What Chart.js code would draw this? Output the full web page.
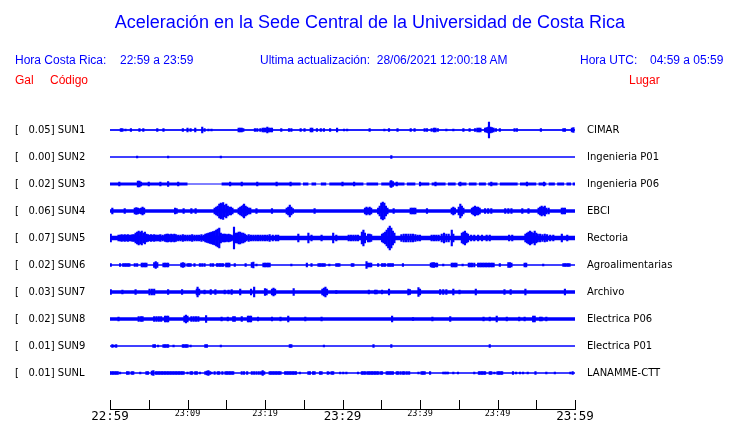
<!DOCTYPE html>
<html><head><meta charset="utf-8">
<script src="https://cdn.jsdelivr.net/npm/chart.js@4.4.1/dist/chart.umd.min.js"></script>
<style>
html,body{margin:0;padding:0;background:#fff;}
body{width:740px;height:423px;overflow:hidden;position:relative;font-family:"Liberation Sans",Arial,sans-serif;}
.t{position:absolute;white-space:pre;color:#0000ff;font-size:12px;line-height:14px;}
.r{color:#ff0000;}
canvas{position:absolute;left:0;top:0;}
</style></head><body>
<canvas id="c" width="740" height="427"></canvas>
<div class="t" style="left:0;width:740px;text-align:center;top:11px;font-size:18px;line-height:22px;">Aceleración en la Sede Central de la Universidad de Costa Rica</div>
<div class="t" style="left:15px;top:53px;">Hora Costa Rica:</div>
<div class="t" style="left:120px;top:53px;">22:59 a 23:59</div>
<div class="t" style="left:260px;top:53px;">Ultima actualización:  28/06/2021 12:00:18 AM</div>
<div class="t" style="left:580px;top:53px;">Hora UTC:</div>
<div class="t" style="left:650px;top:53px;">04:59 a 05:59</div>
<div class="t r" style="left:15px;top:73px;">Gal</div>
<div class="t r" style="left:50px;top:73px;">Código</div>
<div class="t r" style="left:629px;top:73px;">Lugar</div>
<script>
// ---------------- DATA ----------------
const codes = ['SUN1','SUN2','SUN3','SUN4','SUN5','SUN6','SUN7','SUN8','SUN9','SUNL'];
const places = ['CIMAR','Ingenieria P01','Ingenieria P06','EBCI','Rectoria','Agroalimentarias','Archivo','Electrica P06','Electrica P01','LANAMME-CTT'];
const peakGal = [0.05,0.00,0.02,0.06,0.07,0.02,0.03,0.02,0.01,0.01];
const timeLabels = ['22:59','','23:09','','23:19','','23:29','','23:39','','23:49','','23:59'];
// background noise level (half amplitude, display counts)
const noiseAmp = [0.75,0.5,1.5,1.8,2.2,0.6,1.7,1.7,0.5,0.6];
// minutes after 22:59 where the background noise band is present
const sun3Band = [[0,10.0],[14.4,24.6],[24.9,25.6],[26.0,26.6],[27.2,27.9],[28.3,32.7],[33.1,34.6],[35.0,38.0],[38.3,39.4],[39.9,41.2],[41.5,43.3],[43.6,44.6],[44.9,46.0],[46.3,47.3],[47.6,48.5],[48.8,50.0],[50.3,52.6],[52.9,55.0],[55.3,56.3],[56.6,57.4],[57.7,58.6],[58.9,59.5],[59.7,60]];
const fullBand = [[0,60]];
// peaks: [minute after 22:59, half amplitude]
const sun1Peaks = [[1.4,1.5],[1.6,1.5],[2.0,1],[2.7,1.5],[3.8,1.5],[4.3,1.5],[6.1,1.5],[6.9,1.5],[9.4,1.5],[10.0,2],[10.4,1.5],[11.0,2],[11.9,3],[12.2,1.5],[12.7,1],[13.1,1],[16.6,2],[16.8,2],[17.0,2],[17.2,1.5],[18.7,1.5],[19.0,1.5],[19.4,1.5],[19.7,2],[19.9,2],[20.1,2],[20.3,3],[20.5,2],[20.7,2],[20.9,2],[22.1,1.5],[23.1,1.5],[23.4,1.5],[24.6,1.5],[25.1,1.5],[25.9,2],[26.1,2],[26.7,1.5],[27.2,1.5],[27.6,1.5],[28.4,1.5],[29.3,2],[30.2,1],[30.6,1],[33.5,1.5],[35.4,1],[36.0,1.5],[37.1,1.5],[38.8,1.5],[39.3,1.5],[40.6,1.5],[40.9,1.5],[41.5,1.5],[41.8,2],[42.0,2],[42.3,1.5],[43.4,1],[44.3,1],[45.6,1.5],[46.4,1.5],[47.1,1.5],[47.4,2],[47.6,2],[47.8,2],[48.4,2],[48.6,2.5],[48.8,3],[48.9,8],[49.1,3],[49.3,2.5],[49.5,2],[49.8,1.5],[50.3,1.5],[52.2,1.5],[52.5,1.5],[55.6,1.5],[58.5,1.5],[58.7,1.5],[59.6,2],[59.8,2.5]];
const sun2Peaks = [[3.5,1],[7.5,1],[14.3,1],[36.3,1.5]];
const sun3Peaks = [[1.2,2],[3.6,3],[3.8,3],[4.0,2],[5.0,2],[6.5,2],[7.5,2.5],[8.8,2],[15.5,2],[17.0,2],[19.0,2],[21.5,2],[23.3,2],[30.0,2],[31.5,2],[36.2,3],[36.3,3.5],[36.5,2.5],[37.0,2],[40.0,2],[42.0,2],[45.2,2],[49.2,2],[53.8,2],[56.0,2]];
const sun4Peaks = [[0.3,3],[1.9,2.5],[3.2,3],[3.4,3.5],[3.6,3],[3.8,2.5],[4.0,3],[4.2,4],[4.4,3],[8.4,3],[8.6,2.5],[9.5,2.5],[10.5,2.5],[11.05,2.5],[13.5,3],[13.7,4],[13.9,5],[14.1,7],[14.3,8],[14.4,7],[14.6,8.5],[14.8,6],[15.0,7],[15.2,5],[15.4,4],[15.6,4],[15.8,3],[16.6,3],[16.8,4],[17.0,5],[17.2,6],[17.3,7],[17.5,5],[17.7,4],[17.9,3],[18.1,3],[18.9,2.5],[20.9,2.5],[22.8,3],[23.0,4],[23.2,6],[23.4,4],[23.6,2.5],[26.4,2.5],[32.9,3],[33.1,4],[33.3,3],[33.5,4],[33.7,3],[34.6,3],[34.8,5],[35.0,8],[35.2,9],[35.4,8],[35.6,5],[35.8,3],[36.6,2.5],[38.8,3],[39.0,3],[39.2,3],[39.4,3],[40.9,2.5],[44.1,3],[44.3,4],[44.5,3],[45.0,4],[45.2,7],[45.4,5],[45.6,3],[46.7,3],[46.9,4],[47.1,5],[47.3,4],[47.5,4],[47.7,3],[48.4,2.5],[48.8,2.5],[49.2,2.5],[51.0,2.5],[51.4,2.5],[51.8,2.5],[53.2,2.5],[54.0,2.5],[55.3,3],[55.5,4],[55.7,5],[55.9,4],[56.1,5],[56.3,3],[56.6,3],[58.3,3],[58.5,3],[58.7,3]];
const sun5Peaks = [[0.1,4],[1.1,3],[1.3,3],[1.5,3.5],[1.7,3],[1.9,3.5],[2.1,3],[2.3,3.5],[2.5,3],[2.7,3],[2.9,3.5],[3.1,3.5],[3.3,5],[3.5,6],[3.7,7],[3.9,6],[4.1,7],[4.3,5],[4.5,6],[4.7,4],[4.9,3.5],[5.1,3],[5.3,3.5],[5.5,3],[5.7,3.5],[5.9,3],[6.1,3],[6.3,3],[6.5,3.5],[6.8,3],[7.1,3.5],[7.3,4],[7.5,4],[7.7,3.5],[7.9,4],[8.1,3.5],[8.3,4],[8.5,3.5],[8.8,3],[9.1,3],[9.4,3.5],[9.7,3],[10.0,3],[10.3,3],[10.6,3.5],[10.9,3],[11.2,3],[11.5,3],[11.8,3.5],[12.1,3],[12.3,4],[12.5,4.5],[12.7,5],[12.9,5.5],[13.1,6],[13.3,6.5],[13.5,7],[13.7,8],[13.9,9],[14.1,10],[14.3,5],[14.5,4],[14.7,4],[14.9,4],[15.1,3.5],[15.3,4],[15.5,3.5],[15.7,3],[16.0,11],[16.2,5],[16.4,5],[16.6,6],[16.8,6],[17.0,5],[17.2,5],[17.4,4],[17.6,3],[17.9,3.5],[18.2,3],[18.5,3],[18.8,3],[19.1,3],[19.4,3],[19.7,3],[20.0,3],[20.3,3],[20.6,3.5],[21.0,3],[21.4,3],[21.7,3],[24.3,4],[25.6,5],[26.0,3],[27.3,3],[28.8,5],[29.2,3],[30.8,3],[31.1,3],[31.4,3],[31.7,3],[32.0,3],[32.5,6],[32.7,8],[32.9,5],[33.3,4],[33.5,4],[33.7,3.5],[35.1,4],[35.3,5],[35.5,6],[35.7,8],[35.9,10],[36.1,12],[36.3,10],[36.5,7],[36.7,5],[37.6,3.5],[37.9,4],[38.2,4],[38.5,4],[38.8,4],[39.1,4],[39.4,3.5],[39.7,3],[40.0,3],[41.5,3],[41.8,3],[42.1,3],[42.4,3],[42.8,4],[43.1,5],[43.4,4],[43.7,4],[44.1,8],[44.3,4],[45.4,5],[45.6,6],[45.8,7],[46.0,5],[46.2,4],[46.6,3],[47.0,3],[47.5,3],[48.0,3],[48.6,3],[49.0,3],[51.5,3],[51.9,3],[53.6,4],[53.8,5],[54.0,6],[54.2,7],[54.4,6],[54.6,5],[54.8,7],[55.0,5],[55.2,4],[55.5,4],[55.8,3.5],[56.1,4],[56.4,3.5],[56.8,3],[57.2,3],[58.3,4],[59.0,3]];
const sun6Peaks = [[0.1,1.5],[1.3,1.5],[1.7,1.5],[1.9,1.5],[2.1,1.5],[2.3,1.5],[2.5,1.5],[3.2,1.5],[3.5,1.5],[4.1,2],[4.3,2],[4.5,2],[4.7,2],[5.7,2.5],[5.9,3.5],[6.1,2.5],[6.9,2],[7.1,2],[7.3,2],[7.5,2],[9.2,2],[9.4,2.5],[9.6,2],[10.0,1.5],[10.2,1.5],[10.4,1.5],[10.9,1.5],[11.6,1.5],[11.9,1.5],[12.2,1.5],[13.0,1.5],[13.3,1.5],[13.8,1.5],[14.0,1.5],[14.2,1.5],[14.4,1.5],[14.6,1.5],[15.0,2],[15.2,2],[15.4,2],[16.1,1.5],[17.5,1.5],[18.3,2.5],[18.5,3],[18.9,1],[19.8,2],[20.0,2],[20.2,2],[20.4,2],[20.6,2],[23.4,1],[25.4,2],[26.0,1.5],[26.9,1.5],[27.1,1.5],[27.3,1.5],[27.5,1.5],[27.7,1.5],[28.3,1],[29.2,1.5],[29.4,1.5],[29.6,1.5],[31.2,1.5],[31.4,1.5],[33.1,3.5],[33.3,2],[33.5,2],[33.7,2],[34.6,1.5],[35.1,1.5],[35.3,1.5],[35.5,1.5],[35.9,1.5],[36.1,1.5],[36.3,1.5],[36.5,1.5],[37.8,1.5],[41.4,2],[41.6,2.5],[41.8,2.5],[42.0,2],[42.2,2],[43.0,1],[44.1,2],[44.3,2],[44.5,2],[44.7,2],[45.5,1],[46.3,2],[46.5,2],[46.7,2],[47.0,2],[47.5,2],[47.7,2],[47.9,2],[48.1,2],[48.3,2],[48.5,2],[48.7,2],[48.9,2],[49.1,2],[49.3,2],[49.5,2],[50.3,1.5],[51.4,2.5],[51.6,2.5],[51.8,2],[53.5,2],[53.7,2],[55.9,1],[58.5,1.5],[58.7,1.5],[58.9,1.5],[59.1,1.5],[59.3,1.5]];
const sun7Peaks = [[0.1,2.5],[1.6,2],[3.3,2.5],[5.1,3],[5.4,3],[5.7,3],[7.5,2.5],[9.3,2.5],[11.2,3],[11.3,5],[11.5,3],[12.2,2],[13.0,2.5],[13.6,2.5],[14.8,2],[15.3,2],[15.7,2.5],[16.8,3],[18.2,3],[18.6,5],[20.0,3.5],[20.2,3],[20.9,3],[21.1,4],[21.3,3],[23.7,3.5],[27.4,3],[27.6,4],[27.8,5],[28.0,3],[29.2,1.5],[33.4,2],[34.2,2],[34.4,2],[35.1,2],[36.0,3],[38.5,3],[38.7,2.5],[39.8,4.5],[40.0,3],[42.6,2.5],[43.0,2.5],[43.4,2.5],[44.3,3],[45.1,2],[47.2,3],[50.9,2.5],[51.7,2.5],[53.6,3],[58.7,3]];
const sun8Peaks = [[1.1,2],[3.7,2.5],[4.0,2.5],[4.2,2.5],[5.7,2.5],[6.0,2.5],[6.3,2.5],[6.6,2.5],[7.1,3],[7.3,3],[7.5,3],[9.6,3],[9.8,4],[10.0,3],[10.5,2.5],[10.8,2.5],[11.1,2.5],[11.4,2.5],[12.4,3.5],[14.4,2],[15.2,2],[15.9,2.5],[16.1,2.5],[17.0,2.5],[17.8,3],[18.0,3],[18.2,3],[19.1,2],[20.9,2],[22.0,2],[23.0,3],[25.2,2],[27.3,2],[36.4,3],[39.1,1.5],[41.6,2],[43.9,2.5],[48.2,2],[49.0,2],[49.9,3],[51.2,2],[52.8,2],[53.5,2],[54.6,3],[54.8,3],[55.5,2],[55.7,2],[56.3,2]];
const sun9Peaks = [[0.3,1.5],[0.5,1],[0.8,1.5],[5.6,1.5],[5.8,1.5],[6.2,1],[6.9,1.5],[7.1,1.5],[7.3,1.5],[7.5,1.5],[8.2,1],[9.4,1.5],[9.6,1.5],[9.8,1.5],[10.0,1.5],[10.4,1],[12.3,1.5],[12.5,1.5],[14.3,1],[23.2,1.5],[23.4,1.5],[27.6,1],[34.0,1.5],[36.3,1.5],[49.0,1.5]];
const sunLPeaks = [[0.0,1.5],[0.2,1.5],[0.4,1.5],[0.6,1.5],[0.8,1.5],[1.0,1.5],[1.3,1],[2.2,1.5],[2.4,1.5],[2.8,1.5],[3.0,1.5],[3.9,1],[4.7,1.5],[4.9,1.5],[5.4,2],[5.6,2.5],[5.9,1.5],[6.1,1.5],[6.3,1.5],[6.5,1.5],[6.7,1.5],[6.9,1.5],[7.1,1.5],[7.3,1.5],[7.5,1.5],[7.7,1.5],[7.9,1.5],[8.1,1.5],[8.3,1.5],[8.5,1.5],[8.7,1.5],[8.9,1.5],[9.1,1.5],[9.3,1.5],[9.5,1.5],[10.0,1],[10.4,1.5],[10.6,1.5],[11.0,1.5],[11.2,1.5],[11.6,1],[12.3,1.5],[12.5,2],[12.7,2.5],[12.9,1.5],[13.1,1],[13.5,1.5],[13.9,1.5],[14.1,1.5],[14.5,1.5],[14.9,1.5],[15.1,1.5],[15.3,1.5],[15.5,1.5],[15.7,1.5],[15.9,1.5],[17.0,1.5],[17.3,1.5],[17.7,1.5],[18.3,1.5],[18.6,1.5],[18.9,1.5],[19.2,1.5],[19.5,1.5],[19.7,2.5],[19.9,1.5],[20.6,1.5],[20.8,1.5],[21.0,1.5],[21.2,1.5],[21.4,1.5],[21.6,1.5],[21.8,1.5],[22.0,1.5],[22.6,1.5],[22.8,1.5],[23.0,1.5],[23.2,1.5],[23.4,1.5],[23.6,1.5],[23.8,1.5],[24.0,1.5],[24.5,1],[25.6,1.5],[25.8,1.5],[26.2,1.5],[26.4,1.5],[27.1,1.5],[27.3,1.5],[28.1,1.5],[28.3,1],[28.6,1.5],[28.8,1.5],[29.7,1],[30.1,1],[30.5,1],[32.0,1],[32.5,1.5],[32.7,1.5],[32.9,1.5],[33.2,1.5],[33.4,1.5],[33.6,1.5],[33.8,1.5],[34.0,1.5],[34.2,1.5],[34.4,1.5],[34.6,1.5],[34.9,1.5],[35.1,1.5],[35.7,1.5],[35.9,1.5],[36.1,1.5],[36.3,1.5],[36.5,1.5],[37.0,1.5],[37.2,1.5],[37.5,1.5],[37.8,1.5],[38.0,1.5],[38.3,1.5],[38.6,1.5],[39.8,1],[40.2,1.5],[40.4,1.5],[40.6,1.5],[41.3,1.5],[43.0,1],[43.2,1],[43.4,1],[43.6,1],[44.3,1],[44.9,1],[47.0,1],[47.6,1.5],[47.8,1.5],[48.0,1.5],[48.2,1.5],[48.4,1.5],[49.0,1.5],[49.2,1.5],[49.6,1],[50.0,1.5],[50.2,1.5],[50.4,1.5],[50.6,1.5],[52.0,1.5],[52.4,1],[52.9,1],[53.3,1],[53.9,1],[54.9,1.5],[56.3,1],[57.4,1],[59.4,1],[59.7,1.5]];

// ---------------- BUILD ----------------
const peaks = [sun1Peaks,sun2Peaks,sun3Peaks,sun4Peaks,sun5Peaks,sun6Peaks,sun7Peaks,sun8Peaks,sun9Peaks,sunLPeaks];
const bands = [fullBand,fullBand,sun3Band,fullBand,fullBand,fullBand,fullBand,fullBand,fullBand,fullBand];
const ROW = 27, T0 = 0, T1 = 60;
const BLUE = '#0000ff';
const datasets = [];
const pxOf = (chart, v) => Math.abs(chart.scales.y.getPixelForValue(v) - chart.scales.y.getPixelForValue(0));
codes.forEach((code, i) => {
  const off = i * ROW;
  datasets.push({type:'line', data:[{x:T0,y:off},{x:T1,y:off}], borderColor:BLUE, borderWidth:1, pointRadius:0, tension:0, order:3});
  const pts = [];
  bands[i].forEach(([s,e], k) => {
    if (k > 0) pts.push({x:(s + bands[i][k-1][1]) / 2, y:null});
    pts.push({x:s,y:off},{x:e,y:off});
  });
  const amp = noiseAmp[i];
  datasets.push({type:'line', data:pts, borderColor:BLUE, borderWidth:(ctx)=>Math.max(1, pxOf(ctx.chart, 2*amp)), pointRadius:0, tension:0, spanGaps:false, borderCapStyle:'butt', order:2});
  datasets.push({type:'bar', data:peaks[i].map(([t,a]) => ({x:t, y:[off - a, off + a]})), backgroundColor:BLUE, borderWidth:0, barThickness:1.5, grouped:false, order:1});
});

const tickMarks = {
  id:'tickMarks',
  afterDraw(chart){
    const x = chart.scales.x, ctx = chart.ctx, b = chart.chartArea.bottom;
    ctx.save(); ctx.strokeStyle = '#000'; ctx.lineWidth = 1;
    x.ticks.forEach(t => {
      const px = Math.round(x.getPixelForValue(t.value)) + 0.5;
      ctx.beginPath(); ctx.moveTo(px, b); ctx.lineTo(px, b - 9); ctx.stroke();
    });
    ctx.restore();
  }
};

const yCommon = {
  type:'linear', reverse:true, min:-13.5, max:279,
  grid:{display:false, drawTicks:false}, border:{display:false},
  afterBuildTicks: s => { s.ticks = codes.map((c,i) => ({value:i*ROW})); }
};

new Chart(document.getElementById('c'), {
  type:'bar',
  data:{datasets},
  options:{
    responsive:false, animation:false, devicePixelRatio:1,
    layout:{padding:{left:15, top:116.5, right:0, bottom:0}},
    plugins:{legend:{display:false}, tooltip:{enabled:false}, title:{display:false}},
    scales:{
      x:{type:'linear', min:T0, max:T1, offset:false,
         grid:{display:false, drawTicks:false},
         border:{display:true, color:'#000', width:1},
         ticks:{stepSize:5, autoSkip:false, maxRotation:0, padding:0, color:'#000',
           font:(ctx)=>({family:'"DejaVu Sans Mono"', size:(ctx.index % 6 === 0) ? 12.5 : 8.5}),
           callback:(v,i)=>timeLabels[i]},
         afterFit:s=>{s.height = 14;}},
      y:Object.assign({}, yCommon, {position:'left',
         ticks:{crossAlign:'far', padding:0, color:'#000', font:{family:'"DejaVu Sans"', size:10},
           callback:(v)=>{const i=Math.round(v/ROW); return '[   ' + peakGal[i].toFixed(2) + '] ' + codes[i];}},
         afterFit:s=>{s.width = 95;}}),
      yR:Object.assign({}, yCommon, {position:'right',
         ticks:{crossAlign:'near', padding:12, color:'#000', font:{family:'"DejaVu Sans"', size:10},
           callback:(v)=>places[Math.round(v/ROW)]},
         afterFit:s=>{s.width = 165;}})
    }
  },
  plugins:[tickMarks]
});
</script>
</body></html>
